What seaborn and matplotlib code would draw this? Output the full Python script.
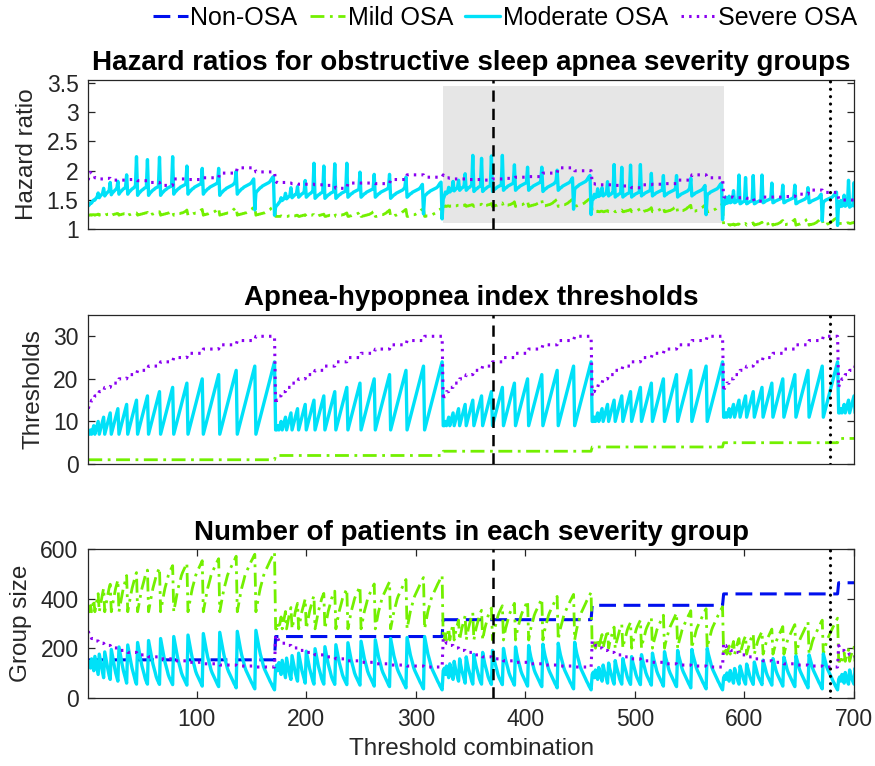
import numpy as np
import pandas as pd
import matplotlib
matplotlib.use("Agg")
import matplotlib.pyplot as plt
import seaborn as sns
from matplotlib.lines import Line2D
from matplotlib.patches import Rectangle

# ---------------------------------------------------------------------------
# AHI cut-points explored: mild cut, moderate cut, severe cut
mild_cuts = [1, 2, 3, 4, 5, 6]
moderate_offset = 6      # first moderate cut sits this far above the mild cut
severe_gap = 6           # severe cut is at least this far above the moderate cut
severe_max = 30

# patients whose AHI lies below each integer threshold 1..30, and cohort size
ahi_thresholds = list(range(1, 31))
n_below = [154, 248, 316, 374, 420, 465, 502, 527, 550, 575, 597, 613, 630, 648, 660,
           670, 679, 688, 698, 708, 716, 726, 734, 742, 750, 756, 762, 767, 771, 775]
n_total = 900

# hazard ratio, severe group, per mild cut (rows) and severe cut (mild+12 .. 30)
hr_severe = [
    [1.84, 1.97, 1.95, 1.88, 1.86, 1.87, 1.84, 1.84, 1.85, 1.83, 1.80, 1.75, 1.86, 1.85, 1.88, 1.96, 2.05, 1.98],
    [1.82, 1.80, 1.79, 1.80, 1.79, 1.78, 1.77, 1.77, 1.76, 1.75, 1.70, 1.79, 1.79, 1.78, 1.85, 1.93, 1.89],
    [1.93, 1.90, 1.88, 1.87, 1.86, 1.86, 1.85, 1.85, 1.84, 1.86, 1.87, 1.89, 1.90, 1.96, 2.05, 2.00],
    [1.80, 1.78, 1.77, 1.76, 1.76, 1.76, 1.75, 1.74, 1.71, 1.76, 1.77, 1.78, 1.84, 1.93, 1.88],
    [1.56, 1.55, 1.55, 1.55, 1.54, 1.54, 1.53, 1.48, 1.55, 1.55, 1.56, 1.60, 1.67, 1.63],
    [1.52, 1.51, 1.50, 1.50, 1.50, 1.49, 1.45, 1.50, 1.50, 1.51, 1.55, 1.62, 1.58],
]

# hazard ratio, mild group: level per mild cut plus a rise per moderate cut (7..24)
hr_mild_level = [1.24, 1.21, 1.38, 1.28, 1.05, 1.07]
hr_mild_rise = [0.00, 0.01, 0.01, 0.02, 0.02, 0.03, 0.03, 0.04, 0.04,
                0.05, 0.06, 0.07, 0.09, 0.10, 0.12, 0.13, 0.14, 0.15]

# hazard ratio, moderate group
hr_mod_upper = [1.40, 1.42, 1.45, 1.50, 1.54, 1.57, 1.59, 1.60, 1.60,
                1.58, 1.58, 1.58, 1.60, 1.60, 1.60, 1.58, 1.60, 1.62]      # by severe cut 13..30
hr_mod_lower = [0.00, 0.03, 0.05, 0.07, 0.09, 0.10, 0.12, 0.13, 0.14,
                0.15, 0.16, 0.17, 0.18, 0.20, 0.23, 0.26, 0.28, 0.30]      # by moderate cut 7..24
hr_mod_narrow = [1.40, 1.45, 1.50, 1.62, 1.70, 1.80, 1.82, 1.93, 2.24,
                 2.19, 2.23, 2.24, 2.08, 2.04, 2.04, 1.99, 1.33, 1.24]     # band of width 6, by severe cut
hr_mod_scale = [1.00, 0.95, 1.01, 0.94, 0.86, 0.82]                       # by mild cut

# ---------------------------------------------------------------------------
below = dict(zip(ahi_thresholds, n_below))
rows = []
for b, m in enumerate(mild_cuts):
    s_first = m + moderate_offset + severe_gap
    for s in range(s_first, severe_max + 1):
        for mo in range(m + moderate_offset, s - severe_gap + 1):
            if mo == s - severe_gap:
                hr_mod = hr_mod_narrow[s - 13] * hr_mod_scale[b]
            else:
                hr_mod = (hr_mod_upper[s - 13] + hr_mod_lower[mo - 7]) * hr_mod_scale[b]
            rows.append(dict(
                mild_thr=m, mod_thr=mo, sev_thr=s,
                hr_mild=hr_mild_level[b] + hr_mild_rise[mo - 7],
                hr_mod=hr_mod,
                hr_sev=hr_severe[b][s - s_first],
                n_non=below[m],
                n_mild=below[mo] - below[m],
                n_mod=below[s] - below[mo],
                n_sev=n_total - below[s],
            ))
df = pd.DataFrame(rows)
df["combo"] = np.arange(1, len(df) + 1)

# ---------------------------------------------------------------------------
sns.set_theme(style="white")
plt.rcParams["font.family"] = ["Liberation Sans", "DejaVu Sans"]

C_NON = "#0010ee"
C_MILD = "#73f000"
C_MOD = "#00e1f8"
C_SEV = "#8a00f0"
TXT = "#262626"

LS_NON = (0, (5.5, 2.5))
LS_MILD = (0, (5, 2, 1, 2))
LS_SEV = (0, (0.8, 1.7))

TITLE_FS = 20
TICK_FS = 16.5
LABEL_FS = 17.5

fig = plt.figure(figsize=(8.75, 7.66), dpi=100)
W, H = 875, 766
left, right = 88.3, 854
boxes = [(80, 229.3), (315, 464), (549.3, 698)]
axes = []
for top, bot in boxes:
    ax = fig.add_axes([left / W, 1 - bot / H, (right - left) / W, (bot - top) / H])
    axes.append(ax)


def draw(ax, col, color, ls, lw):
    sns.lineplot(data=df, x="combo", y=col, ax=ax, color=color, lw=lw,
                 estimator=None, sort=False, legend=False)
    line = ax.lines[-1]
    line.set_linestyle(ls)


def markers(ax):
    ax.axvline(370, color="black", lw=1.8, ls=(0, (4.5, 2.8)), zorder=5)
    ax.axvline(678, color="black", lw=2.3, ls=(0, (0.01, 2.3)),
               dash_capstyle="round", zorder=5)


def title(ax, text):
    ax.set_title(text, fontweight="bold", fontsize=TITLE_FS, pad=7, color="black")


# panel 1: hazard ratios
ax = axes[0]
ax.add_patch(Rectangle((325, 1.1), 256, 2.35, facecolor="#e6e6e6", edgecolor="none", zorder=0))
draw(ax, "hr_mild", C_MILD, LS_MILD, 2.0)
draw(ax, "hr_mod", C_MOD, "-", 2.4)
draw(ax, "hr_sev", C_SEV, LS_SEV, 2.2)
markers(ax)
ax.set_ylim(1, 3.55)
ax.set_yticks([1, 1.5, 2, 2.5, 3, 3.5])
ax.set_yticklabels(["1", "1.5", "2", "2.5", "3", "3.5"])
ax.set_xticks([])
ax.set_ylabel("Hazard ratio")
title(ax, "Hazard ratios for obstructive sleep apnea severity groups")

# panel 2: thresholds
ax = axes[1]
draw(ax, "mild_thr", C_MILD, LS_MILD, 2.0)
draw(ax, "mod_thr", C_MOD, "-", 2.4)
draw(ax, "sev_thr", C_SEV, LS_SEV, 2.2)
markers(ax)
ax.set_ylim(0, 35)
ax.set_yticks([0, 10, 20, 30])
ax.set_xticks([])
ax.set_ylabel("Thresholds")
title(ax, "Apnea-hypopnea index thresholds")

# panel 3: group sizes
ax = axes[2]
draw(ax, "n_non", C_NON, LS_NON, 2.2)
draw(ax, "n_mild", C_MILD, LS_MILD, 2.0)
draw(ax, "n_mod", C_MOD, "-", 2.4)
draw(ax, "n_sev", C_SEV, LS_SEV, 2.2)
markers(ax)
ax.set_ylim(0, 600)
ax.set_yticks([0, 200, 400, 600])
ax.set_xticks([100, 200, 300, 400, 500, 600, 700])
ax.set_ylabel("Group size")
ax.set_xlabel("Threshold combination", labelpad=5)
title(ax, "Number of patients in each severity group")

for ax in axes:
    ax.set_xlim(1, 700)
    if ax is not axes[2]:
        ax.set_xlabel("")
    for sp in ax.spines.values():
        sp.set_color(TXT)
        sp.set_linewidth(0.9)
    ax.tick_params(direction="in", length=5, width=0.9, colors=TXT,
                   labelsize=TICK_FS, top=True, right=True, left=True, bottom=True,
                   labelcolor=TXT, pad=7)
    ax.yaxis.label.set_size(LABEL_FS)
    ax.yaxis.label.set_color(TXT)
    ax.xaxis.label.set_size(LABEL_FS)
    ax.xaxis.label.set_color(TXT)
    ax.yaxis.labelpad = 6

handles = [
    Line2D([], [], color=C_NON, lw=2.2, ls=LS_NON),
    Line2D([], [], color=C_MILD, lw=2.0, ls=LS_MILD),
    Line2D([], [], color=C_MOD, lw=2.4, ls="-"),
    Line2D([], [], color=C_SEV, lw=2.2, ls=LS_SEV),
]
fig.legend(handles, ["Non-OSA", "Mild OSA", "Moderate OSA", "Severe OSA"],
           loc="center", bbox_to_anchor=(505 / W, 1 - 18 / H), ncol=4, frameon=False,
           fontsize=18, handlelength=1.4, handletextpad=0.1, columnspacing=0.5,
           borderaxespad=0, borderpad=0, labelcolor="black")

fig.savefig("out.png", dpi=100)
